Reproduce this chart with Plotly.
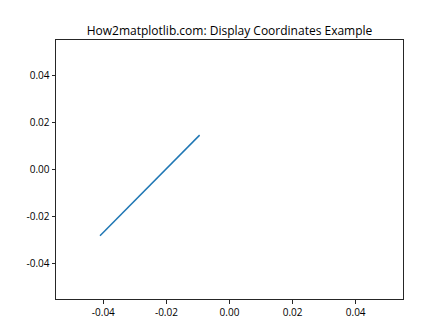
import plotly.graph_objects as go

x_vals = [-0.04105, -0.00947]
y_vals = [-0.0281, 0.0146]
tick_vals = [-0.04, -0.02, 0.0, 0.02, 0.04]
tick_text = ["-0.04", "-0.02", "0.00", "0.02", "0.04"]
title_text = "How2matplotlib.com: Display Coordinates Example"

font_family = "Open Sans, Noto Sans, DejaVu Sans, sans-serif"

fig = go.Figure()
fig.add_trace(go.Scatter(x=x_vals, y=y_vals, mode="lines",
                         line=dict(color="#1f77b4", width=1.5), showlegend=False))

axis_common = dict(
    showgrid=False, zeroline=False, showline=True, mirror=True,
    linecolor="#262626", linewidth=1, ticks="outside", ticklen=3.5,
    tickwidth=0.8, tickcolor="#262626",
    tickvals=tick_vals, ticktext=tick_text,
    tickfont=dict(family=font_family, size=10, color="black"),
)

fig.update_layout(
    width=448, height=336,
    margin=dict(l=56, r=45, t=40, b=37),
    paper_bgcolor="white", plot_bgcolor="white",
    title=dict(text=title_text, x=0.5, xref="paper", y=1, yref="paper",
               yanchor="bottom", xanchor="center", pad=dict(b=5),
               font=dict(family=font_family, size=12, color="black")),
    xaxis=dict(range=[-0.055, 0.055], **axis_common),
    yaxis=dict(range=[-0.055, 0.055], **axis_common),
)

fig.write_html("out.html")
